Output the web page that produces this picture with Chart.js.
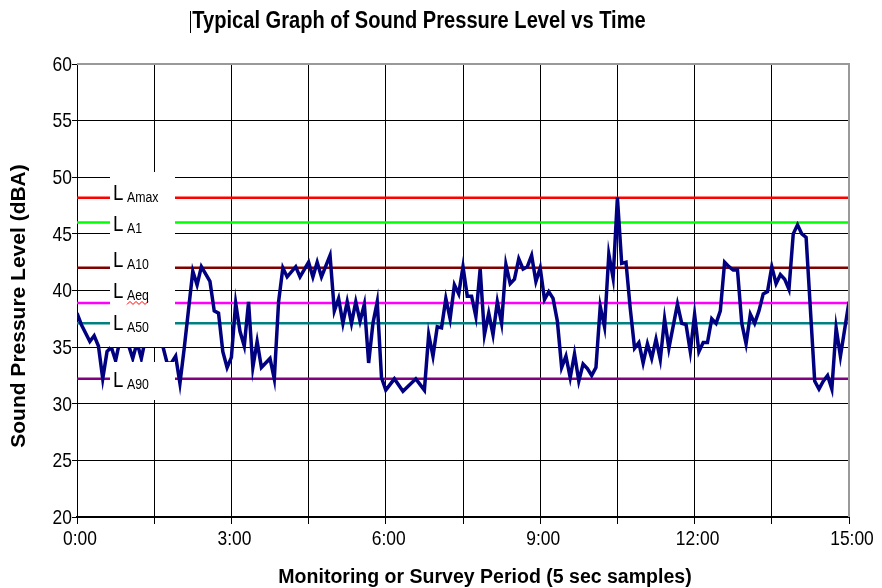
<!DOCTYPE html>
<html>
<head>
<meta charset="utf-8">
<script src="https://cdn.jsdelivr.net/npm/chart.js@4.4.0/dist/chart.umd.min.js"></script>
<style>
  html, body { margin: 0; padding: 0; background: #fff; }
</style>
</head>
<body>
<canvas id="chartSoundLevel" width="882" height="588"></canvas>
<script>
// 5 second samples (0 .. 180 = 15 minutes)
var sampleIndex = [0, 1, 3, 4, 5, 6, 7, 8, 9, 10, 11, 12, 13, 14, 15, 16, 17, 18, 19, 20,
    21, 22, 23, 24, 25, 27, 28, 29, 31, 32, 33, 34, 35, 36, 37, 38, 39, 40, 41, 42,
    43, 45, 46, 47, 48, 49, 51, 52, 54, 55, 56, 57, 59, 60, 61, 62, 63, 64, 65, 66,
    67, 68, 69, 70, 71, 72, 74, 76, 79, 81, 82, 83, 84, 85, 86, 87, 88, 89, 90, 91,
    92, 93, 94, 95, 96, 97, 98, 99, 100, 101, 102, 103, 104, 105, 106, 107, 108, 109, 110, 111,
    112, 113, 114, 115, 116, 117, 118, 119, 120, 121, 122, 123, 124, 125, 126, 127, 128, 129, 130, 131,
    132, 133, 134, 135, 136, 137, 138, 140, 141, 142, 143, 144, 145, 146, 147, 148, 149, 150, 151, 152,
    153, 154, 155, 156, 157, 158, 159, 160, 161, 162, 163, 164, 165, 166, 167, 168, 169, 170, 172, 173,
    174, 175, 176, 177, 178, 180];
var levels = [38.0, 37.0, 35.5, 36.0, 35.1, 32.2, 34.6, 35.0, 33.8, 35.6, 36.4, 35.2, 34.0, 35.4, 34.0, 35.8, 36.6, 36.0, 35.6, 35.1,
    33.6, 33.6, 34.2, 31.8, 34.9, 41.7, 40.5, 42.1, 40.8, 38.2, 38.0, 34.6, 33.2, 34.1, 38.9, 36.4, 35.1, 39.0, 33.2, 35.5,
    33.2, 34.0, 32.2, 39.0, 42.0, 41.2, 42.1, 41.2, 42.5, 41.2, 42.5, 41.2, 43.1, 38.2, 39.3, 37.1, 39.0, 37.1, 39.0, 37.3,
    38.8, 33.6, 37.1, 39.0, 32.3, 31.2, 32.2, 31.1, 32.2, 31.2, 36.1, 34.2, 36.8, 36.7, 39.3, 37.5, 40.5, 39.7, 42.1, 39.5,
    39.5, 37.7, 41.9, 36.1, 38.0, 36.1, 39.0, 37.1, 42.3, 40.6, 41.0, 42.8, 41.9, 42.1, 43.1, 40.8, 42.0, 39.2, 39.9, 39.3,
    37.3, 33.2, 34.2, 32.3, 34.4, 32.0, 33.5, 33.1, 32.5, 33.2, 38.6, 36.8, 43.2, 41.1, 48.2, 42.4, 42.5, 38.4, 34.9, 35.4,
    33.6, 35.3, 34.0, 35.7, 33.9, 37.5, 34.9, 38.8, 37.1, 37.0, 34.6, 37.9, 34.6, 35.4, 35.4, 37.5, 37.1, 38.2, 42.5, 42.1,
    41.8, 41.8, 37.1, 35.3, 37.9, 37.1, 38.2, 39.7, 39.9, 42.1, 40.6, 41.4, 41.0, 40.1, 45.0, 45.8, 45.0, 44.7, 32.0, 31.3,
    32.0, 32.5, 31.3, 36.7, 34.2, 39.0];

// statistical levels
var statNames = ['Amax', 'A1', 'A10', 'Aeq', 'A50', 'A90'];
var statValues = [48.2, 46.0, 42.0, 38.9, 37.1, 32.2];
var statColors = ['#ff0000', '#00ff00', '#800000', '#ff00ff', '#008080', '#800080'];

var xTickLabels = ['0:00', '3:00', '6:00', '9:00', '12:00', '15:00'];
var xMin = 0, xMax = 180, xGridStep = 18, xLabelStep = 36;
var yMin = 20, yMax = 60, yStep = 5;

var FONT = "'Liberation Sans', Arial, sans-serif";
var NARROW = 0.83;

var datasets = [{
    data: levels.map(function (v, i) { return { x: sampleIndex[i], y: v }; }),
    borderColor: '#000080',
    borderWidth: 3.5,
    order: 0
}];
statValues.forEach(function (v, i) {
    datasets.push({
        data: [{ x: xMin, y: v }, { x: xMax, y: v }],
        borderColor: statColors[i],
        borderWidth: 2.5,
        order: 1
    });
});

// text squeezed sideways, the reference uses condensed lettering
function narrowText(ctx, text, x, y, font, sx, align) {
    ctx.save();
    ctx.font = font;
    ctx.textAlign = align || 'left';
    ctx.translate(x, y);
    ctx.scale(sx, 1);
    ctx.fillText(text, 0, 0);
    ctx.restore();
}

// label boxes, titles, tick labels and the frame
var decorPlugin = {
    id: 'decor',
    afterDatasetsDraw: function (chart) {
        var ctx = chart.ctx;
        var y = chart.scales.y;
        ctx.save();
        ctx.fillStyle = '#fff';
        ctx.fillRect(110, 172, 65, 175);
        ctx.fillRect(110, 362, 65, 38);

        var offsets = [2, 8, -1, -5, 7, 8];
        ctx.fillStyle = '#000';
        ctx.textBaseline = 'alphabetic';
        statNames.forEach(function (name, i) {
            var base = y.getPixelForValue(statValues[i]) + offsets[i];
            narrowText(ctx, 'L', 113, base, '22px ' + FONT, 0.85);
            narrowText(ctx, name, 127, base + 2, '14px ' + FONT, 0.88);
            if (name === 'Aeq') {
                // spell-check squiggle
                ctx.font = '14px ' + FONT;
                var w = ctx.measureText(name).width * 0.88;
                ctx.strokeStyle = '#ff0000';
                ctx.lineWidth = 1;
                ctx.beginPath();
                for (var k = 0; k <= w; k += 3) {
                    ctx.lineTo(127 + k, base + 5 + ((k / 3) % 2 ? -1.5 : 1.5));
                }
                ctx.stroke();
            }
        });
        ctx.restore();
    },
    afterDraw: function (chart) {
        var ctx = chart.ctx;
        var a = chart.chartArea;
        var sx = chart.scales.x, sy = chart.scales.y;
        ctx.save();
        ctx.strokeStyle = '#999';
        ctx.lineWidth = 2;
        ctx.beginPath();
        ctx.moveTo(a.left, a.top);
        ctx.lineTo(a.right, a.top);
        ctx.lineTo(a.right, a.bottom);
        ctx.stroke();

        ctx.fillStyle = '#000';
        ctx.textBaseline = 'middle';

        // tick labels
        sy.ticks.forEach(function (t) {
            narrowText(ctx, String(t.value), 72, sy.getPixelForValue(t.value) + 1, '21px ' + FONT, NARROW, 'right');
        });
        sx.ticks.forEach(function (t) {
            if (t.value % xLabelStep !== 0) return;
            narrowText(ctx, xTickLabels[t.value / xLabelStep], sx.getPixelForValue(t.value) + 3, 539, '21px ' + FONT, NARROW, 'center');
        });

        narrowText(ctx, 'Typical Graph of Sound Pressure Level vs Time', 419, 22, 'bold 23px ' + FONT, 0.873, 'center');
        ctx.fillRect(190, 11, 1, 22);

        narrowText(ctx, 'Monitoring or Survey Period (5 sec samples)', 485, 577, 'bold 20px ' + FONT, 0.976, 'center');

        ctx.translate(19, 306);
        ctx.rotate(-Math.PI / 2);
        ctx.font = 'bold 21px ' + FONT;
        ctx.textAlign = 'center';
        ctx.fillText('Sound Pressure Level (dBA)', 0, 0);
        ctx.restore();
    }
};

var ctx = document.getElementById('chartSoundLevel');
var chartSPL = new Chart(ctx, {
    type: 'line',
    data: { datasets: datasets },
    options: {
        responsive: false,
        animation: false,
        layout: { padding: { top: 64, right: 33, left: 0, bottom: 0 } },
        elements: { point: { radius: 0 }, line: { tension: 0 } },
        plugins: {
            legend: { display: false },
            title: { display: false },
            tooltip: { enabled: false }
        },
        scales: {
            x: {
                type: 'linear',
                min: xMin,
                max: xMax,
                afterFit: function (s) { s.height = 71; },
                grid: { color: '#000', lineWidth: 1, tickLength: 7 },
                border: { color: '#000', width: 2 },
                ticks: { stepSize: xGridStep, autoSkip: false, maxRotation: 0, display: false }
            },
            y: {
                min: yMin,
                max: yMax,
                afterFit: function (s) { s.width = 77; },
                grid: { color: '#000', lineWidth: 1, tickLength: 5 },
                border: { color: '#000', width: 1 },
                ticks: { stepSize: yStep, display: false }
            }
        }
    },
    plugins: [decorPlugin]
});
</script>
</body>
</html>
